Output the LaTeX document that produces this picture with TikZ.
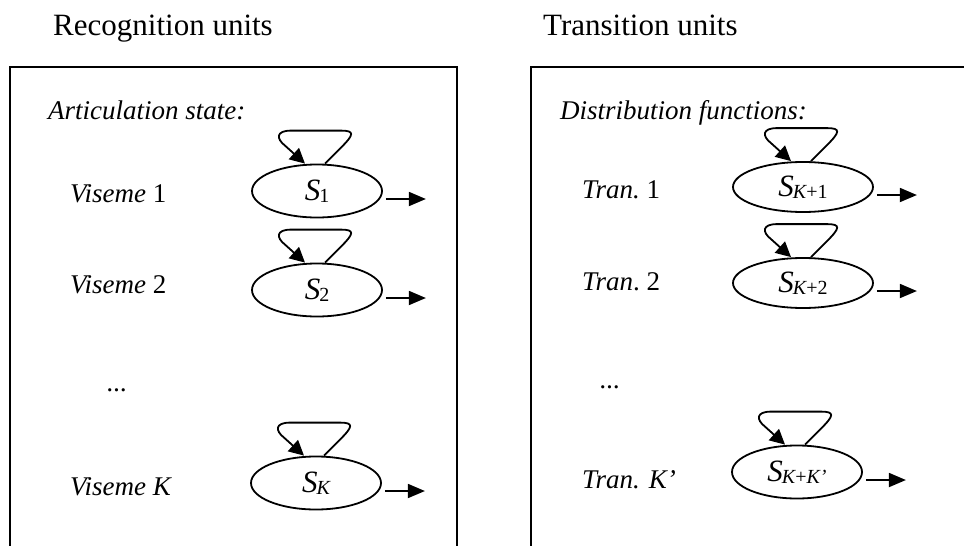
\documentclass[tikz,border=0pt]{standalone}
\usepackage{fontspec}
\setmainfont{Liberation Serif}
\usetikzlibrary{shapes.geometric,arrows.meta,calc}

% subscripted state name: italic S with a smaller subscript
\newcommand{\stname}[1]{\fontsize{31}{31}\selectfont\itshape S\kern-1pt\raisebox{-2pt}{\fontsize{20}{20}\selectfont #1}}

\tikzset{
  frame/.style={line width=2pt, line cap=rect},
  heading/.style={anchor=base west, inner sep=0pt, font=\fontsize{31}{36}\selectfont},
  label/.style={anchor=base west, inner sep=0pt, font=\fontsize{27}{32}\selectfont\itshape},
  state/.style={ellipse, draw, line width=1.8pt, minimum width=130pt, minimum height=53pt,
    inner sep=0pt, text height=20pt, text depth=2pt},
  loopline/.style={line width=1.8pt, -{Triangle[length=15pt,width=15pt]}},
  exitline/.style={line width=1.8pt, -{Triangle[length=17pt,width=14pt]}}
}

% self-loop sitting on top of a state, ending with an arrow back onto it
\newcommand{\selfloop}[1]{%
  \draw[loopline] ($(#1.north)+(8,0)$) -- ($(#1.north)+(24,-16)$)
    .. controls ($(#1.north)+(37,-29)$) and ($(#1.north)+(38,-33)$) .. ($(#1.north)+(24,-33)$)
    -- ($(#1.north)+(-26,-33)$)
    .. controls ($(#1.north)+(-41,-33)$) and ($(#1.north)+(-41,-25)$) .. ($(#1.north)+(-32,-18)$)
    -- ($(#1.north)+(-12,0)$);}
% outgoing arrow to the right of a state
\newcommand{\exitarrow}[1]{%
  \coordinate (#1-out) at ($(#1.east)+(43,8)$);
  \draw[exitline] ($(#1.east)+(3,8)$) -- (#1-out);}

\begin{document}
\begin{tikzpicture}[x=1pt,y=-1pt]
\useasboundingbox (0,0) rectangle (964,546);

% headings
\node[heading] (hrec) at (53,35) {Recognition units};
\node[heading] (htr) at (543,35) {Transition units};

% frames, open at the bottom
\draw[frame] (10,546) -- (10,67) -- (457,67) -- (457,546);
\draw[frame] (531,546) -- (531,67) -- (964,67);

% left panel
\node[label] (artic) at (48,119) {Articulation state:};
\node[label] (v1) at (70,202) {Viseme \upshape 1};
\node[label] (v2) at (70,293) {Viseme \upshape 2};
\node[label] (vdots) at (107,391) {...};
\node[label] (vk) at (70,495) {Viseme K};

\node[state] (s1) at (317,191) {\stname{\upshape 1}};
\node[state] (s2) at (317,290) {\stname{\upshape 2}};
\node[state] (sk) at (316,483) {\stname{K}};

% right panel
\node[label] (distr) at (560,119) {Distribution functions:};
\node[label] (tr1) at (582,198) {Tran.\ \upshape 1};
\node[label] (tr2) at (582,290) {Tran\upshape.\ 2};
\node[label] (tdots) at (600,388) {...};
\node[label] (trk) at (582,488) {Tran. K’};

\node[state, minimum width=140pt, minimum height=50pt] (t1) at (803,187) {\stname{K\upshape+1}};
\node[state, minimum width=140pt, minimum height=50pt] (t2) at (803,283) {\stname{K\upshape+2}};
\node[state] (tk) at (797,472) {\stname{K\upshape+\itshape K’}};

\foreach \s in {s1,s2,sk,t1,t2,tk} {\selfloop{\s}\exitarrow{\s}}
\end{tikzpicture}
\end{document}
